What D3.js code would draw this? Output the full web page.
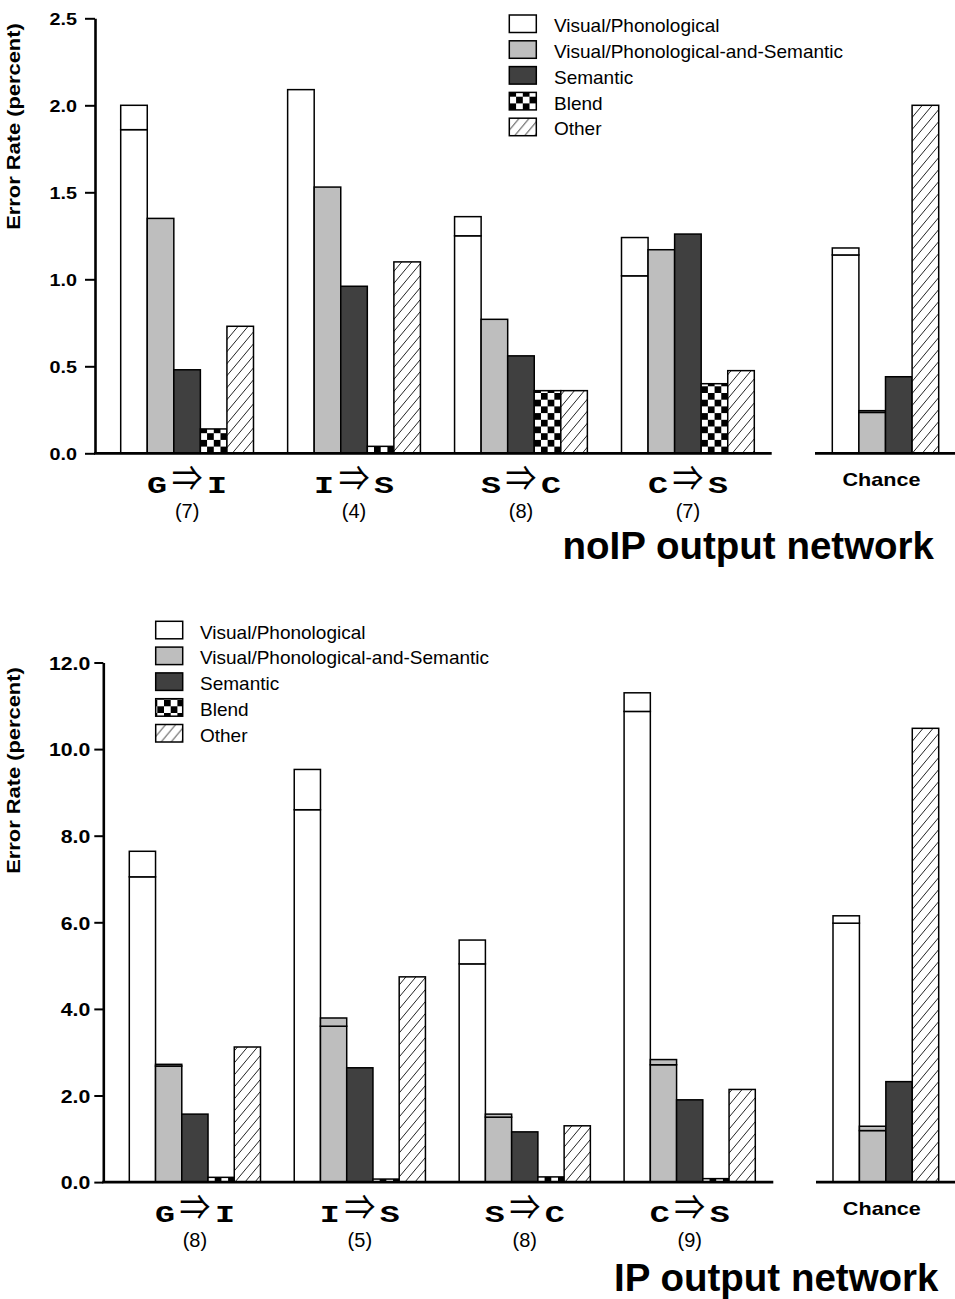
<!DOCTYPE html>
<html>
<head>
<meta charset="utf-8">
<script src="https://cdn.jsdelivr.net/npm/d3@7"></script>
<style>
  body { margin: 0; background: #fff; }
  svg { display: block; }
</style>
</head>
<body>
<svg id="fig" width="955" height="1299"></svg>
<script>
// ---- Categories and labels ----
const groupLetters = [["G", "I"], ["I", "S"], ["S", "C"], ["C", "S"]];
const seriesNames = ["Visual/Phonological", "Visual/Phonological-and-Semantic", "Semantic", "Blend", "Other"];
const chanceSeries = [0, 1, 2, 4];          // the chance column has no Blend bar
const chanceLabel = "Chance";
const yTitle = "Error Rate (percent)";

// ---- noIP output network (error rate, percent) ----
const noipCounts = ["(7)", "(4)", "(8)", "(7)"];
const noipTicks = [0, 0.5, 1.0, 1.5, 2.0, 2.5];
const noipVisPhon        = [2.00, 2.09, 1.36, 1.24];
const noipVisPhonBase    = [1.86, 2.09, 1.25, 1.02];
const noipVisPhonSem     = [1.35, 1.53, 0.77, 1.17];
const noipVisPhonSemBase = [1.35, 1.53, 0.77, 1.17];
const noipSemantic       = [0.48, 0.96, 0.56, 1.26];
const noipBlend          = [0.14, 0.04, 0.36, 0.40];
const noipOther          = [0.73, 1.10, 0.36, 0.475];
const noipChance         = [1.18, 0.245, 0.44, 2.00];
const noipChanceBase     = [1.14, 0.235, 0.44, 2.00];

// ---- IP output network (error rate, percent) ----
const ipCounts = ["(8)", "(5)", "(8)", "(9)"];
const ipTicks = [0, 2, 4, 6, 8, 10, 12];
const ipVisPhon        = [7.64, 9.53, 5.59, 11.30];
const ipVisPhonBase    = [7.05, 8.60, 5.04, 10.87];
const ipVisPhonSem     = [2.72, 3.79, 1.57, 2.83];
const ipVisPhonSemBase = [2.68, 3.60, 1.50, 2.71];
const ipSemantic       = [1.57, 2.64, 1.16, 1.90];
const ipBlend          = [0.11, 0.07, 0.12, 0.08];
const ipOther          = [3.12, 4.74, 1.30, 2.14];
const ipChance         = [6.15, 1.29, 2.32, 10.48];
const ipChanceBase     = [5.98, 1.19, 2.32, 10.48];

const SANS = "'Liberation Sans', Arial, Helvetica, sans-serif";
const MONO = "'Liberation Mono', 'Courier New', monospace";
const ARROW = "'Noto Sans CJK JP', 'DejaVu Sans', sans-serif";
const fills = ["#ffffff", "#bebebe", "#404040", null, "url(#hatch)"];

const svg = d3.select("#fig");
svg.append("rect").attr("width", 955).attr("height", 1299).attr("fill", "#fff");
const defs = svg.append("defs");

// diagonal hatching for "Other"
const hatch = defs.append("pattern").attr("id", "hatch")
  .attr("patternUnits", "userSpaceOnUse").attr("width", 10).attr("height", 12);
hatch.append("rect").attr("width", 10).attr("height", 12).attr("fill", "#fff");
hatch.append("path").attr("d", "M-10,12L0,0M0,12L10,0M10,12L20,0")
  .attr("stroke", "#222").attr("stroke-width", 1).attr("fill", "none");

// checkerboard for "Blend", anchored on each bar's own corner
let checkerCount = 0;
function checker(x, y) {
  const id = "checker" + (checkerCount++);
  const c = 6.7;
  const p = defs.append("pattern").attr("id", id)
    .attr("patternUnits", "userSpaceOnUse").attr("width", 2 * c).attr("height", 2 * c)
    .attr("patternTransform", `translate(${x},${y})`);
  p.append("rect").attr("width", 2 * c).attr("height", 2 * c).attr("fill", "#fff");
  p.append("rect").attr("width", c).attr("height", c).attr("fill", "#000");
  p.append("rect").attr("x", c).attr("y", c).attr("width", c).attr("height", c).attr("fill", "#000");
  return `url(#${id})`;
}

function drawPanel(p) {
  const g = svg.append("g");
  const y = d3.scaleLinear().domain([0, p.yMax]).range([p.y0, p.yTop]);
  const gx = d3.scaleBand().domain(d3.range(groupLetters.length))
    .range(p.groupRange).paddingInner(0.2045).paddingOuter(0);
  const sx = d3.scaleBand().domain(d3.range(seriesNames.length)).range([0, gx.bandwidth()]);
  const cx = d3.scaleBand().domain(d3.range(chanceSeries.length)).range(p.chanceRange);

  // collect bars: each bar has a lower segment and an optional upper segment
  const bars = [];
  p.series.forEach((s, si) => {
    s.total.forEach((v, gi) => {
      bars.push({ x: gx(gi) + sx(si), w: sx.bandwidth(), total: v, base: s.base[gi], si });
    });
  });
  p.chance.forEach((v, k) => {
    bars.push({ x: cx(k), w: cx.bandwidth(), total: v, base: p.chanceBase[k], si: chanceSeries[k] });
  });
  const segs = [];
  bars.forEach(b => {
    const fill = b.si === 3 ? checker(b.x, y(0)) : fills[b.si];
    segs.push({ x: b.x, w: b.w, lo: 0, hi: b.base, fill });
    if (b.total > b.base + 1e-9) segs.push({ x: b.x, w: b.w, lo: b.base, hi: b.total, fill });
  });

  g.append("g").selectAll("rect").data(segs).join("rect")
    .attr("x", d => d.x).attr("width", d => d.w)
    .attr("y", d => y(d.hi)).attr("height", d => y(d.lo) - y(d.hi))
    .attr("fill", d => d.fill).attr("stroke", "#000").attr("stroke-width", 1.5);

  // y axis
  const ax = g.append("g").attr("transform", `translate(${p.axisX},0)`)
    .call(d3.axisLeft(y).tickValues(p.ticks).tickFormat(d3.format(".1f"))
      .tickSize(p.tickLen).tickSizeOuter(0).tickPadding(p.tickPad));
  ax.select(".domain").attr("stroke", "#000").attr("stroke-width", 2.6);
  ax.selectAll(".tick line").attr("stroke", "#000").attr("stroke-width", 2);
  // widen the bold tick labels a little, keeping their right edge fixed
  ax.selectAll(".tick text")
    .attr("x", 0).attr("dy", null)
    .attr("transform", `translate(${-(p.tickLen + p.tickPad)},${p.tickFont * 0.36}) scale(${p.tickStretch},1)`)
    .attr("fill", "#000")
    .style("font-family", SANS).style("font-weight", "bold").style("font-size", p.tickFont + "px");

  // baselines under the four conditions and under the chance column
  g.append("line").attr("x1", p.axisX - 1).attr("x2", p.baseEnd)
    .attr("y1", y(0)).attr("y2", y(0)).attr("stroke", "#000").attr("stroke-width", 2.8);
  g.append("line").attr("x1", p.chanceAxis[0]).attr("x2", p.chanceAxis[1])
    .attr("y1", y(0)).attr("y2", y(0)).attr("stroke", "#000").attr("stroke-width", 2.8);

  // y axis title
  g.append("text").attr("transform", `translate(20,${p.titleY}) rotate(-90) scale(1.25,1)`)
    .attr("text-anchor", "middle").style("font-family", SANS).style("font-weight", "bold")
    .style("font-size", "17.5px").text(yTitle);

  // group labels: "X ⇒ Y" with the number of runs underneath
  const lab = g.append("g").selectAll("g").data(groupLetters).join("g")
    .attr("transform", (d, i) => `translate(${gx(i) + gx.bandwidth() / 2},${y(0) + 39.4})`);
  lab.append("text").attr("transform", "translate(-20,0) scale(1.45,1)")
    .attr("text-anchor", "end").style("font-family", MONO).style("font-weight", "bold")
    .style("font-size", "23px").text(d => d[0]);
  lab.append("text").attr("transform", "translate(20,0) scale(1.45,1)")
    .attr("text-anchor", "start").style("font-family", MONO).style("font-weight", "bold")
    .style("font-size", "23px").text(d => d[1]);
  lab.append("text").attr("transform", "translate(0,-1.5) scale(0.88,1)")
    .attr("text-anchor", "middle").style("font-family", ARROW).style("font-size", "35px")
    .text("\u21D2");
  lab.append("text").attr("x", 0).attr("y", 25).attr("text-anchor", "middle")
    .style("font-family", SANS).style("font-size", "20px").text((d, i) => p.counts[i]);

  g.append("text")
    .attr("transform", `translate(${(p.chanceRange[0] + p.chanceRange[1]) / 2 - 4},${y(0) + 32.7}) scale(1.2,1)`)
    .attr("text-anchor", "middle")
    .style("font-family", SANS).style("font-weight", "bold").style("font-size", "18px").text(chanceLabel);

  // legend
  const lg = g.append("g").selectAll("g").data(seriesNames).join("g")
    .attr("transform", (d, i) => `translate(${p.legendX},${p.legendY + i * 25.8})`);
  lg.append("rect").attr("width", 27).attr("height", 17.5)
    .attr("fill", (d, i) => i === 3 ? checker(p.legendX, p.legendY + i * 25.8 - 1) : fills[i])
    .attr("stroke", "#000").attr("stroke-width", 1.5);
  lg.append("text").attr("x", p.legendTextDx).attr("y", 17.3)
    .style("font-family", SANS).style("font-size", "19px").text(d => d);

  // network title
  g.append("text").attr("x", p.netX).attr("y", p.netY).attr("text-anchor", "end")
    .style("font-family", SANS).style("font-weight", "bold").style("font-size", "38.5px")
    .text(p.netTitle);
}

drawPanel({
  yMax: 2.5, y0: 453.3, yTop: 18.3, axisX: 95,
  groupRange: [120.7, 754.3], baseEnd: 771.7,
  chanceRange: [832.3, 938.7], chanceAxis: [815, 955],
  ticks: noipTicks, tickLen: 10, tickPad: 8, tickFont: 16.5, tickStretch: 1.2,
  titleY: 126.5, legendX: 509.3, legendY: 15, legendTextDx: 44.7,
  counts: noipCounts, netTitle: "noIP output network", netX: 934, netY: 559,
  series: [
    { total: noipVisPhon, base: noipVisPhonBase },
    { total: noipVisPhonSem, base: noipVisPhonSemBase },
    { total: noipSemantic, base: noipSemantic },
    { total: noipBlend, base: noipBlend },
    { total: noipOther, base: noipOther }
  ],
  chance: noipChance, chanceBase: noipChanceBase
});

drawPanel({
  yMax: 12, y0: 1182.1, yTop: 662.5, axisX: 103.3,
  groupRange: [129.3, 755.3], baseEnd: 773.3,
  chanceRange: [833, 938.7], chanceAxis: [816, 955],
  ticks: ipTicks, tickLen: 9, tickPad: 4, tickFont: 19, tickStretch: 1.12,
  titleY: 770.5, legendX: 155.7, legendY: 621.3, legendTextDx: 44.3,
  counts: ipCounts, netTitle: "IP output network", netX: 938.5, netY: 1290.9,
  series: [
    { total: ipVisPhon, base: ipVisPhonBase },
    { total: ipVisPhonSem, base: ipVisPhonSemBase },
    { total: ipSemantic, base: ipSemantic },
    { total: ipBlend, base: ipBlend },
    { total: ipOther, base: ipOther }
  ],
  chance: ipChance, chanceBase: ipChanceBase
});
</script>
</body>
</html>
